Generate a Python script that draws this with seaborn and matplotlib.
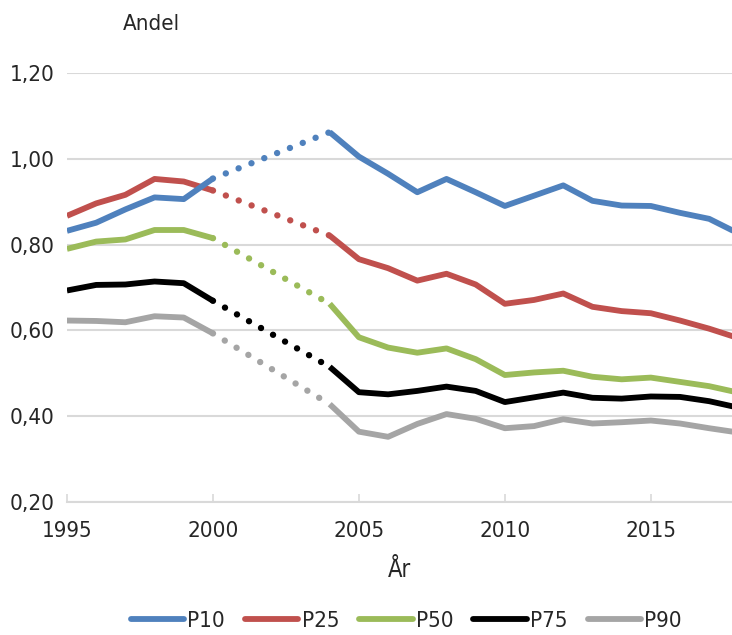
import pandas as pd
import numpy as np
import matplotlib
matplotlib.use('Agg')
import matplotlib.pyplot as plt
from matplotlib.lines import Line2D
import seaborn as sns

# data (no values for 2001-2003)
years = [1995, 1996, 1997, 1998, 1999, 2000,
         2004, 2005, 2006, 2007, 2008, 2009, 2010, 2011,
         2012, 2013, 2014, 2015, 2016, 2017, 2018]
p10 = [0.832, 0.851, 0.882, 0.910, 0.906, 0.954,
       1.062, 1.005, 0.965, 0.922, 0.953, 0.922, 0.890, 0.914,
       0.938, 0.902, 0.891, 0.890, 0.874, 0.860, 0.826]
p25 = [0.867, 0.896, 0.916, 0.953, 0.947, 0.926,
       0.821, 0.766, 0.745, 0.716, 0.732, 0.707, 0.662, 0.671,
       0.686, 0.655, 0.645, 0.640, 0.623, 0.604, 0.582]
p50 = [0.790, 0.807, 0.812, 0.834, 0.834, 0.815,
       0.662, 0.584, 0.560, 0.548, 0.558, 0.533, 0.496, 0.502,
       0.506, 0.492, 0.486, 0.490, 0.480, 0.470, 0.455]
p75 = [0.693, 0.706, 0.707, 0.714, 0.710, 0.669,
       0.515, 0.456, 0.451, 0.459, 0.469, 0.459, 0.433, 0.444,
       0.455, 0.443, 0.441, 0.446, 0.445, 0.435, 0.420]
p90 = [0.623, 0.622, 0.619, 0.633, 0.630, 0.593,
       0.428, 0.364, 0.352, 0.382, 0.405, 0.394, 0.372, 0.377,
       0.393, 0.383, 0.386, 0.390, 0.383, 0.372, 0.362]

series = ['P10', 'P25', 'P50', 'P75', 'P90']
colors = ['#4F81BD', '#C0504D', '#9BBB59', '#000000', '#A5A5A5']
palette = dict(zip(series, colors))

# long format, with a "part" column to break the line over the gap
rows = []
for name, vals in zip(series, [p10, p25, p50, p75, p90]):
    for yr, v in zip(years, vals):
        rows.append({'year': yr, 'value': v, 'series': name,
                     'part': 'a' if yr <= 2000 else 'b'})
df = pd.DataFrame(rows)
gap = df[df['year'].isin([2000, 2004])]

sns.set_style('white')
plt.rcParams['font.family'] = ['DejaVu Sans']
plt.rcParams['font.stretch'] = 'condensed'

fig = plt.figure(figsize=(7.32, 6.35), dpi=100)
ax = fig.add_axes([0.0915, 0.2094, 0.9085, 0.6757])

order = series[::-1]
sns.lineplot(data=df, x='year', y='value', hue='series', units='part',
             estimator=None, hue_order=order, palette=palette,
             linewidth=4.2, solid_capstyle='butt', legend=False, ax=ax)
sns.lineplot(data=gap, x='year', y='value', hue='series', units='series',
             estimator=None, hue_order=order, palette=palette,
             linewidth=4.6, linestyle=(0, (0.01, 2.15)), dash_capstyle='round',
             legend=False, ax=ax)

ax.set_xlim(1995, 2017.78)
ax.set_ylim(0.2, 1.2)
ax.set_xticks([1995, 2000, 2005, 2010, 2015])
ax.set_yticks(np.arange(0.2, 1.21, 0.2))
ax.set_yticklabels([f'{t:.2f}'.replace('.', ',') for t in np.arange(0.2, 1.21, 0.2)])
ax.yaxis.grid(True, color='#D9D9D9', linewidth=1.5)
ax.set_axisbelow(True)
for s in ['top', 'right', 'left']:
    ax.spines[s].set_visible(False)
ax.spines['bottom'].set_color('#D9D9D9')
ax.spines['bottom'].set_linewidth(1.5)
ax.tick_params(axis='x', direction='in', length=6, width=1.2, color='#D9D9D9',
               labelsize=16, pad=14, bottom=True)
ax.tick_params(axis='y', length=0, labelsize=16, pad=9)
ax.set_xlabel('År', fontsize=17, labelpad=12)
ax.set_ylabel('')
fig.text(0.168, 0.962, 'Andel', fontsize=16, va='center')

handles = [Line2D([], [], color=c, linewidth=4.2, solid_capstyle='round')
           for c in colors]
fig.legend(handles, series, loc='center', bbox_to_anchor=(0.555, 0.022),
           ncol=5, frameon=False, fontsize=16, handlelength=2.4,
           handletextpad=0.15, columnspacing=0.9)

fig.savefig('out.png', dpi=100)
